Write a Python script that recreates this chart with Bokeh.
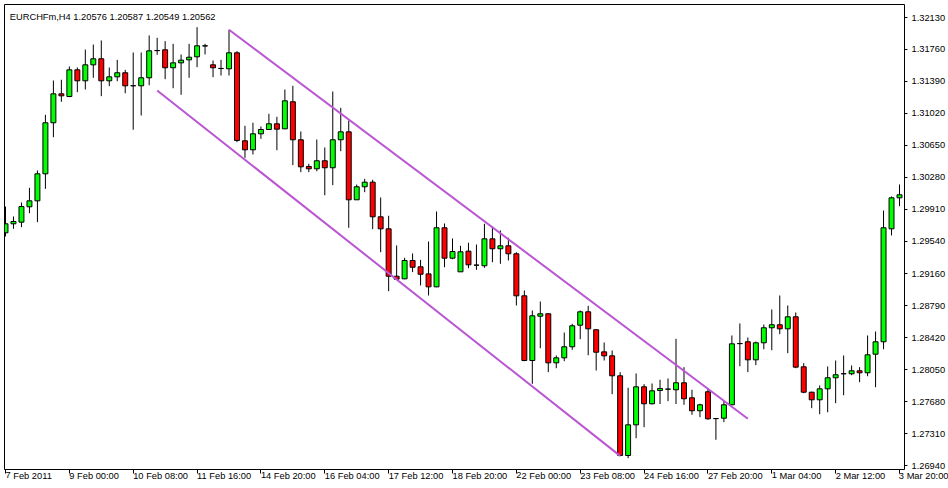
from bokeh.plotting import figure
from bokeh.models import FixedTicker, PrintfTickFormatter, Label, ColumnDataSource, Range1d
from bokeh.embed import file_html
from bokeh.resources import INLINE

title_text = "EURCHFm,H4  1.20576 1.20587 1.20549 1.20562"

opens = [1.29637, 1.29741, 1.29760, 1.29938, 1.30007, 1.30320, 1.30911, 1.31246, 1.31215, 1.31524,
         1.31397, 1.31582, 1.31652, 1.31397, 1.31443, 1.31490, 1.31340, 1.31339, 1.31432, 1.31748,
         1.31756, 1.31548, 1.31605, 1.31640, 1.31675, 1.31802, 1.31582, 1.31540, 1.31536, 1.31721,
         1.30702, 1.30598, 1.30783, 1.30833, 1.30899, 1.30841, 1.31154, 1.30714, 1.30405, 1.30378,
         1.30471, 1.30390, 1.30714, 1.30806, 1.30019, 1.30170, 1.30223, 1.29822, 1.29683, 1.29134,
         1.29104, 1.29316, 1.29243, 1.29161, 1.29011, 1.29695, 1.29343, 1.29185, 1.29424, 1.29262,
         1.29255, 1.29567, 1.29452, 1.29486, 1.29394, 1.28907, 1.28158, 1.28671, 1.28699, 1.28131,
         1.28189, 1.28317, 1.28567, 1.28722, 1.28514, 1.28258, 1.28212, 1.27981, 1.27058, 1.27413,
         1.27853, 1.27657, 1.27811, 1.27826, 1.27819, 1.27900, 1.27726, 1.27576, 1.27796, 1.27486,
         1.27490, 1.27645, 1.28355, 1.28375, 1.28166, 1.28363, 1.28537, 1.28572, 1.28525, 1.28664,
         1.28085, 1.27791, 1.27703, 1.27830, 1.27958, 1.28004, 1.28004, 1.28039, 1.28016, 1.28231,
         1.28375, 1.29683, 1.30042]
highs = [1.29941, 1.29826, 1.29988, 1.30158, 1.30358, 1.31003, 1.31400, 1.31409, 1.31563, 1.31551,
         1.31759, 1.31817, 1.31864, 1.31551, 1.31640, 1.31524, 1.31725, 1.31725, 1.31922, 1.31895,
         1.31856, 1.31825, 1.31702, 1.31825, 1.32018, 1.31825, 1.31632, 1.31640, 1.31988, 1.31740,
         1.30876, 1.30911, 1.30868, 1.31015, 1.30980, 1.31296, 1.31339, 1.30810, 1.30436, 1.30717,
         1.30625, 1.31273, 1.31084, 1.30937, 1.30196, 1.30262, 1.30251, 1.30046, 1.29834, 1.29490,
         1.29347, 1.29397, 1.29324, 1.29536, 1.29884, 1.29745, 1.29571, 1.29486, 1.29521, 1.29501,
         1.29741, 1.29710, 1.29664, 1.29579, 1.29412, 1.28969, 1.28737, 1.28841, 1.28705, 1.28216,
         1.28482, 1.28583, 1.28737, 1.28792, 1.28518, 1.28367, 1.28274, 1.28023, 1.27842, 1.28008,
         1.27884, 1.27892, 1.27935, 1.27950, 1.28409, 1.28081, 1.27819, 1.27657, 1.27834, 1.27490,
         1.27691, 1.28448, 1.28587, 1.28424, 1.28378, 1.28575, 1.28749, 1.28911, 1.28795, 1.28714,
         1.28127, 1.27796, 1.27869, 1.28089, 1.28158, 1.28216, 1.28100, 1.28081, 1.28448, 1.28494,
         1.29895, 1.30057, 1.30196]
lows = [1.29594, 1.29683, 1.29702, 1.29864, 1.29760, 1.30146, 1.30744, 1.31154, 1.31207, 1.31265,
        1.31296, 1.31432, 1.31219, 1.31335, 1.31392, 1.31253, 1.30830, 1.30995, 1.31346, 1.31698,
        1.31416, 1.31311, 1.31235, 1.31432, 1.31555, 1.31702, 1.31439, 1.31458, 1.31458, 1.30686,
        1.30505, 1.30544, 1.30725, 1.30830, 1.30593, 1.30838, 1.30420, 1.30339, 1.30339, 1.30350,
        1.30072, 1.30188, 1.30582, 1.29695, 1.30017, 1.30107, 1.29679, 1.29412, 1.28961, 1.29096,
        1.29100, 1.29181, 1.29027, 1.28911, 1.29007, 1.29238, 1.29331, 1.29183, 1.29227, 1.29208,
        1.29232, 1.29296, 1.29278, 1.29316, 1.28795, 1.28150, 1.27888, 1.28300, 1.28023, 1.28069,
        1.28150, 1.28282, 1.28405, 1.28219, 1.28042, 1.28158, 1.27768, 1.27050, 1.27027, 1.27258,
        1.27386, 1.27649, 1.27654, 1.27687, 1.27654, 1.27645, 1.27529, 1.27502, 1.27471, 1.27240,
        1.27444, 1.27642, 1.28092, 1.28023, 1.28104, 1.28289, 1.28277, 1.28463, 1.28243, 1.28069,
        1.27779, 1.27606, 1.27536, 1.27559, 1.27664, 1.27756, 1.27988, 1.27907, 1.27976, 1.27849,
        1.28289, 1.29606, 1.29945]
closes = [1.29741, 1.29768, 1.29941, 1.30007, 1.30320, 1.30911, 1.31246, 1.31223, 1.31524, 1.31397,
          1.31582, 1.31652, 1.31397, 1.31443, 1.31490, 1.31339, 1.31339, 1.31432, 1.31744, 1.31746,
          1.31548, 1.31605, 1.31636, 1.31670, 1.31802, 1.31800, 1.31548, 1.31539, 1.31721, 1.30706,
          1.30598, 1.30783, 1.30833, 1.30899, 1.30837, 1.31165, 1.30714, 1.30401, 1.30378, 1.30471,
          1.30390, 1.30714, 1.30806, 1.30019, 1.30170, 1.30223, 1.29822, 1.29683, 1.29134, 1.29100,
          1.29316, 1.29238, 1.29157, 1.29011, 1.29695, 1.29343, 1.29420, 1.29417, 1.29266, 1.29263,
          1.29567, 1.29452, 1.29486, 1.29394, 1.28907, 1.28158, 1.28676, 1.28699, 1.28131, 1.28189,
          1.28317, 1.28560, 1.28722, 1.28525, 1.28254, 1.28212, 1.27981, 1.27058, 1.27413, 1.27853,
          1.27657, 1.27807, 1.27834, 1.27827, 1.27900, 1.27715, 1.27576, 1.27645, 1.27483, 1.27485,
          1.27645, 1.28351, 1.28353, 1.28166, 1.28363, 1.28537, 1.28572, 1.28525, 1.28664, 1.28081,
          1.27791, 1.27703, 1.27830, 1.27958, 1.27993, 1.28005, 1.28039, 1.28016, 1.28224, 1.28375,
          1.29695, 1.30042, 1.30077]

tick_bars = [0, 8, 16, 24, 32, 40, 48, 56, 64, 72, 80, 88, 96, 104, 112]
tick_labels = ["7 Feb 2011", "9 Feb 00:00", "10 Feb 08:00", "11 Feb 16:00", "14 Feb 20:00",
               "16 Feb 04:00", "17 Feb 12:00", "18 Feb 20:00", "22 Feb 00:00", "23 Feb 08:00",
               "24 Feb 16:00", "27 Feb 20:00", "1 Mar 04:00", "2 Mar 12:00", "3 Mar 20:00"]
price_ticks = [1.26940, 1.27310, 1.27680, 1.28050, 1.28420, 1.28790, 1.29160, 1.29540,
               1.29910, 1.30280, 1.30650, 1.31020, 1.31390, 1.31760, 1.32130]

upper_x = [28, 93]
upper_y = [1.31988, 1.27483]
lower_x = [19, 77]
lower_y = [1.31285, 1.27054]

n = len(opens)
xs = list(range(n))
bull = [c >= o for o, c in zip(opens, closes)]
src = ColumnDataSource(dict(
    x=xs, open=opens, high=highs, low=lows, close=closes,
    top=[max(o, c) for o, c in zip(opens, closes)],
    bottom=[min(o, c) for o, c in zip(opens, closes)],
    color=["#00FF00" if b else "#FF0000" for b in bull],
))

FONT = "Liberation Sans"
FS = "9.3px"

x_start, x_end = -0.125, 112.625
y_start, y_end = 1.2689584, 1.3228054

p = figure(width=948, height=488, output_backend="svg", toolbar_location=None,
           x_range=Range1d(x_start, x_end), y_range=Range1d(y_start, y_end),
           y_axis_location="right",
           min_border_left=4, min_border_right=42, min_border_top=4, min_border_bottom=19)
p.background_fill_color = "white"
p.border_fill_color = "white"
p.outline_line_color = "black"
p.outline_line_width = 1
p.xgrid.visible = False
p.ygrid.visible = False

# time axis: a tiny negative orientation makes Bokeh left-align the labels at their ticks
p.xaxis.ticker = FixedTicker(ticks=tick_bars)
p.xaxis.major_label_overrides = {b: lab for b, lab in zip(tick_bars, tick_labels)}
p.xaxis.major_label_orientation = -0.0001
p.xaxis.major_label_standoff = 2
p.xaxis.major_tick_out = 4
p.xaxis.major_tick_in = 0

p.yaxis.ticker = FixedTicker(ticks=price_ticks)
p.yaxis.formatter = PrintfTickFormatter(format="%.5f")
p.yaxis.major_label_standoff = 4
p.yaxis.major_tick_out = 3
p.yaxis.major_tick_in = 0

for ax in (p.xaxis[0], p.yaxis[0]):
    ax.axis_line_color = None
    ax.minor_tick_line_color = None
    ax.major_tick_line_color = "black"
    ax.major_label_text_font = FONT
    ax.major_label_text_font_size = FS
    ax.major_label_text_color = "black"

p.segment(x0="x", y0="high", x1="x", y1="low", source=src, line_color="black", line_width=1)
p.vbar(x="x", top="top", bottom="bottom", width=0.62, fill_color="color",
       line_color="black", line_width=1, source=src)

p.line(upper_x, upper_y, line_color="#BA55D3", line_width=2)
p.line(lower_x, lower_y, line_color="#BA55D3", line_width=2)

p.add_layout(Label(x=x_start, y=y_end, text=title_text, text_font=FONT,
                   text_font_size=FS, text_color="black", text_baseline="alphabetic",
                   x_offset=5.3, y_offset=-12.7))

open("out.html", "w").write(file_html(p, INLINE))
